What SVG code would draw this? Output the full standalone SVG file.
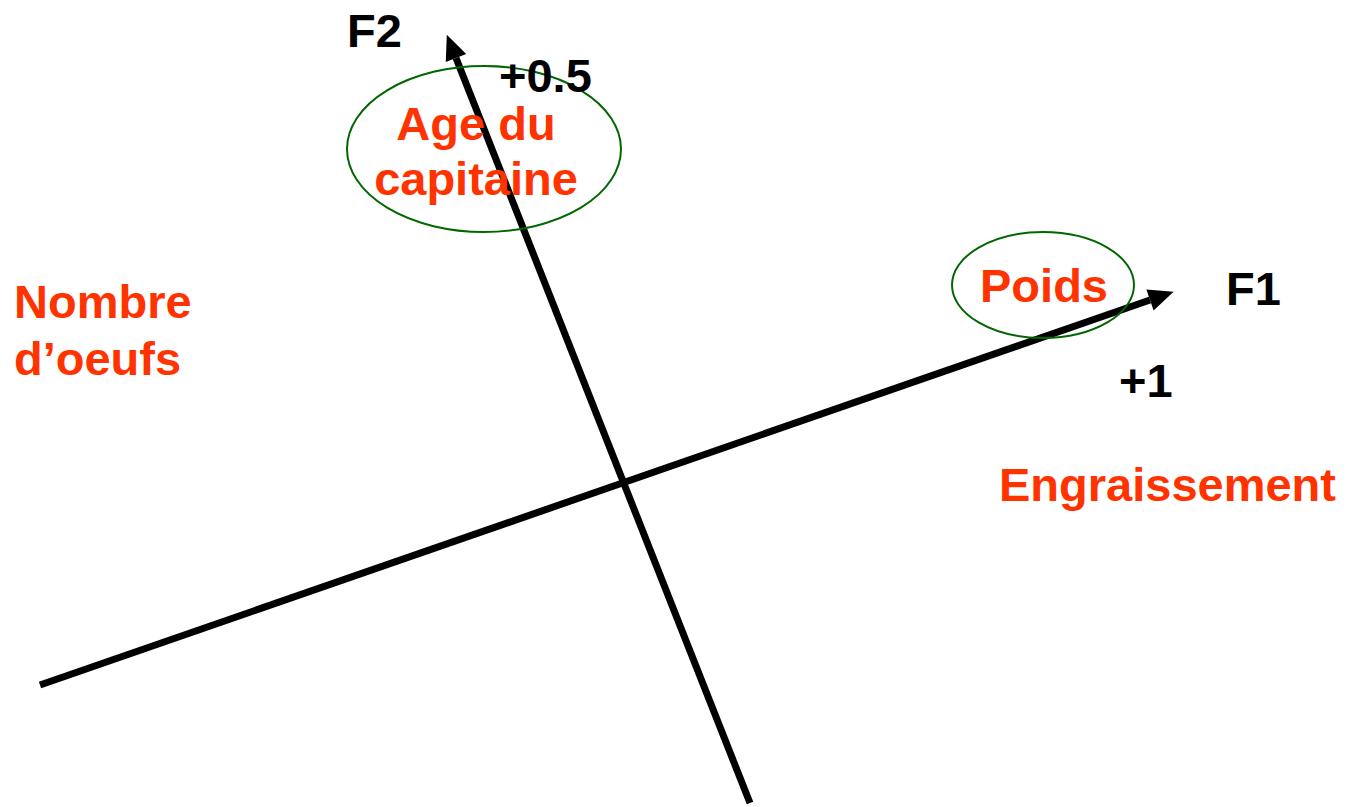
<svg xmlns="http://www.w3.org/2000/svg" width="1350" height="807" viewBox="0 0 1350 807">
<style>
.axis{stroke:#000;stroke-width:7;fill:none}
.lbl{font-family:"Liberation Sans",Arial,sans-serif;font-weight:bold;font-size:47px;fill:#000}
.var{font-family:"Liberation Sans",Arial,sans-serif;font-weight:bold;font-size:47px;fill:#FF3300}
.ell{fill:none;stroke:#006600;stroke-width:2}
</style>
<defs>
<marker id="ah" markerUnits="userSpaceOnUse" orient="auto" refX="0" refY="0" markerWidth="30" markerHeight="30" overflow="visible">
<path d="M0,-11 L25,0 L0,11 z" fill="#000"/>
</marker>
</defs>
<rect width="1350" height="807" fill="#fff"/>
<g id="connectors">
<line id="F1-axis" class="axis" x1="40" y1="685" x2="1150" y2="300" marker-end="url(#ah)"/>
<line id="F2-axis" class="axis" x1="750" y1="803" x2="456" y2="58" marker-end="url(#ah)"/>
</g>
<g id="age">
<ellipse class="ell" cx="484" cy="149" rx="137" ry="83"/>
<text class="var" x="476" y="140" text-anchor="middle">Age du</text>
<text class="var" x="476" y="195" text-anchor="middle">capitaine</text>
</g>
<g id="poids">
<ellipse class="ell" cx="1043" cy="285" rx="91" ry="53"/>
<text class="var" x="1044" y="302" text-anchor="middle">Poids</text>
</g>
<g id="nombre">
<text class="var" x="14" y="318">Nombre</text>
<text class="var" x="14" y="375">d’oeufs</text>
</g>
<g id="engraissement">
<text class="var" x="999" y="501">Engraissement</text>
</g>
<g id="labels">
<text class="lbl" x="347" y="47">F2</text>
<text class="lbl" x="499" y="92">+0.5</text>
<text class="lbl" x="1226" y="305">F1</text>
<text class="lbl" x="1119" y="397">+1</text>
</g>
</svg>
